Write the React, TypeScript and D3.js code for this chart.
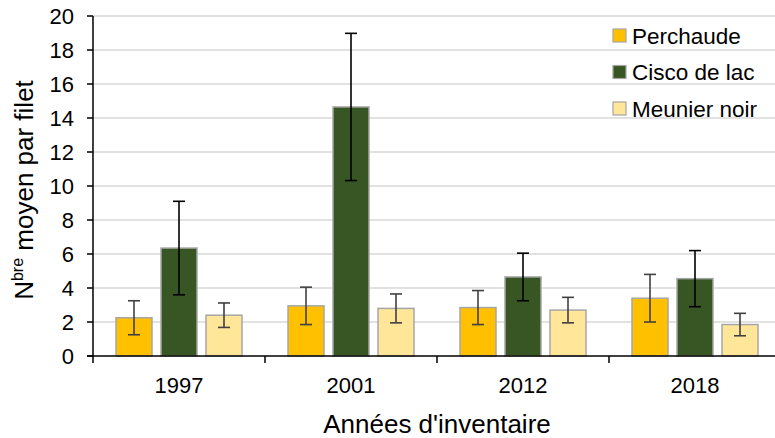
import React from "react";
import * as d3 from "d3";

const years = ["1997", "2001", "2012", "2018"];
const seriesNames = ["Perchaude", "Cisco de lac", "Meunier noir"];
const perchaude = [2.25, 2.95, 2.85, 3.4];
const perchaudeErr = [1.0, 1.1, 1.0, 1.4];
const cisco = [6.35, 14.65, 4.65, 4.55];
const ciscoErr = [2.75, 4.33, 1.4, 1.65];
const meunier = [2.4, 2.8, 2.7, 1.85];
const meunierErr = [0.72, 0.85, 0.75, 0.66];
const yTicks = [0, 2, 4, 6, 8, 10, 12, 14, 16, 18, 20];

const fills = ["#FFC000", "#375623", "#FFE699"];
const errColors = ["#404040", "#000000", "#404040"];
const FONT = "'Liberation Sans', Arial, sans-serif";

export default function App() {
  const W = 775;
  const H = 438;
  const left = 93;
  const right = 781;
  const top = 16;
  const bottom = 356;

  const x = d3.scaleBand<string>().domain(years).range([left, right]).padding(0);
  const y = d3.scaleLinear().domain([0, 20]).range([bottom, top]);

  const values = [perchaude, cisco, meunier];
  const errs = [perchaudeErr, ciscoErr, meunierErr];
  const barW = 36;

  return (
    <svg width={W} height={H} style={{ display: "block", position: "absolute", left: 0, top: 0 }} fontFamily={FONT}>
      <rect width={W} height={H} fill="#fff" />
      {yTicks.filter((t) => t > 0).map((t) => (
        <line key={"g" + t} x1={left} x2={right} y1={y(t)} y2={y(t)} stroke="#D9D9D9" strokeWidth={1.5} />
      ))}
      {years.map((yr, i) =>
        seriesNames.map((s, j) => {
          const cx = (x(yr) as number) + x.bandwidth() / 2 + (j - 1) * 45;
          const v = values[j][i];
          const e = errs[j][i];
          return (
            <g key={yr + s}>
              <rect x={cx - barW / 2} y={y(v)} width={barW} height={y(0) - y(v)} fill={fills[j]} stroke="#A6A6A6" strokeWidth={1.5} />
              <line x1={cx} x2={cx} y1={y(v + e)} y2={y(v - e)} stroke={errColors[j]} strokeWidth={1.6} />
              <line x1={cx - 6} x2={cx + 6} y1={y(v + e)} y2={y(v + e)} stroke={errColors[j]} strokeWidth={1.6} />
              <line x1={cx - 6} x2={cx + 6} y1={y(v - e)} y2={y(v - e)} stroke={errColors[j]} strokeWidth={1.6} />
            </g>
          );
        })
      )}
      <line x1={left} x2={left} y1={top} y2={bottom + 7} stroke="#000" strokeWidth={1.5} />
      <line x1={left - 6} x2={right} y1={bottom} y2={bottom} stroke="#000" strokeWidth={1.5} />
      {yTicks.map((t) => (
        <g key={"t" + t}>
          <line x1={left - 6} x2={left} y1={y(t)} y2={y(t)} stroke="#000" strokeWidth={1.5} />
          <text x={left - 19} y={y(t)} dy="0.36em" textAnchor="end" fontSize={22} fill="#000">
            {t}
          </text>
        </g>
      ))}
      {years.map((yr) => (
        <g key={"x" + yr}>
          <line x1={(x(yr) as number) + x.bandwidth()} x2={(x(yr) as number) + x.bandwidth()} y1={bottom} y2={bottom + 7} stroke="#000" strokeWidth={1.5} />
          <text x={(x(yr) as number) + x.bandwidth() / 2} y={393} textAnchor="middle" fontSize={22} fill="#000">
            {yr}
          </text>
        </g>
      ))}
      <text x={(left + right) / 2} y={433} textAnchor="middle" fontSize={26} fill="#000">
        Années d'inventaire
      </text>
      <text transform={`translate(33,${(top + bottom) / 2 + 4}) rotate(-90)`} textAnchor="middle" fontSize={26} fill="#000">
        N<tspan fontSize={16} dy={-10}>bre</tspan>
        <tspan dy={10}> moyen par filet</tspan>
      </text>
      {seriesNames.map((s, j) => (
        <g key={"l" + s} transform={`translate(613,${29 + j * 36.5})`}>
          <rect x={0} y={0} width={13} height={13} fill={fills[j]} stroke="#A6A6A6" strokeWidth={1.2} />
          <text x={19} y={6.5} dy="0.36em" fontSize={22.5} fill="#000">
            {s}
          </text>
        </g>
      ))}
    </svg>
  );
}
